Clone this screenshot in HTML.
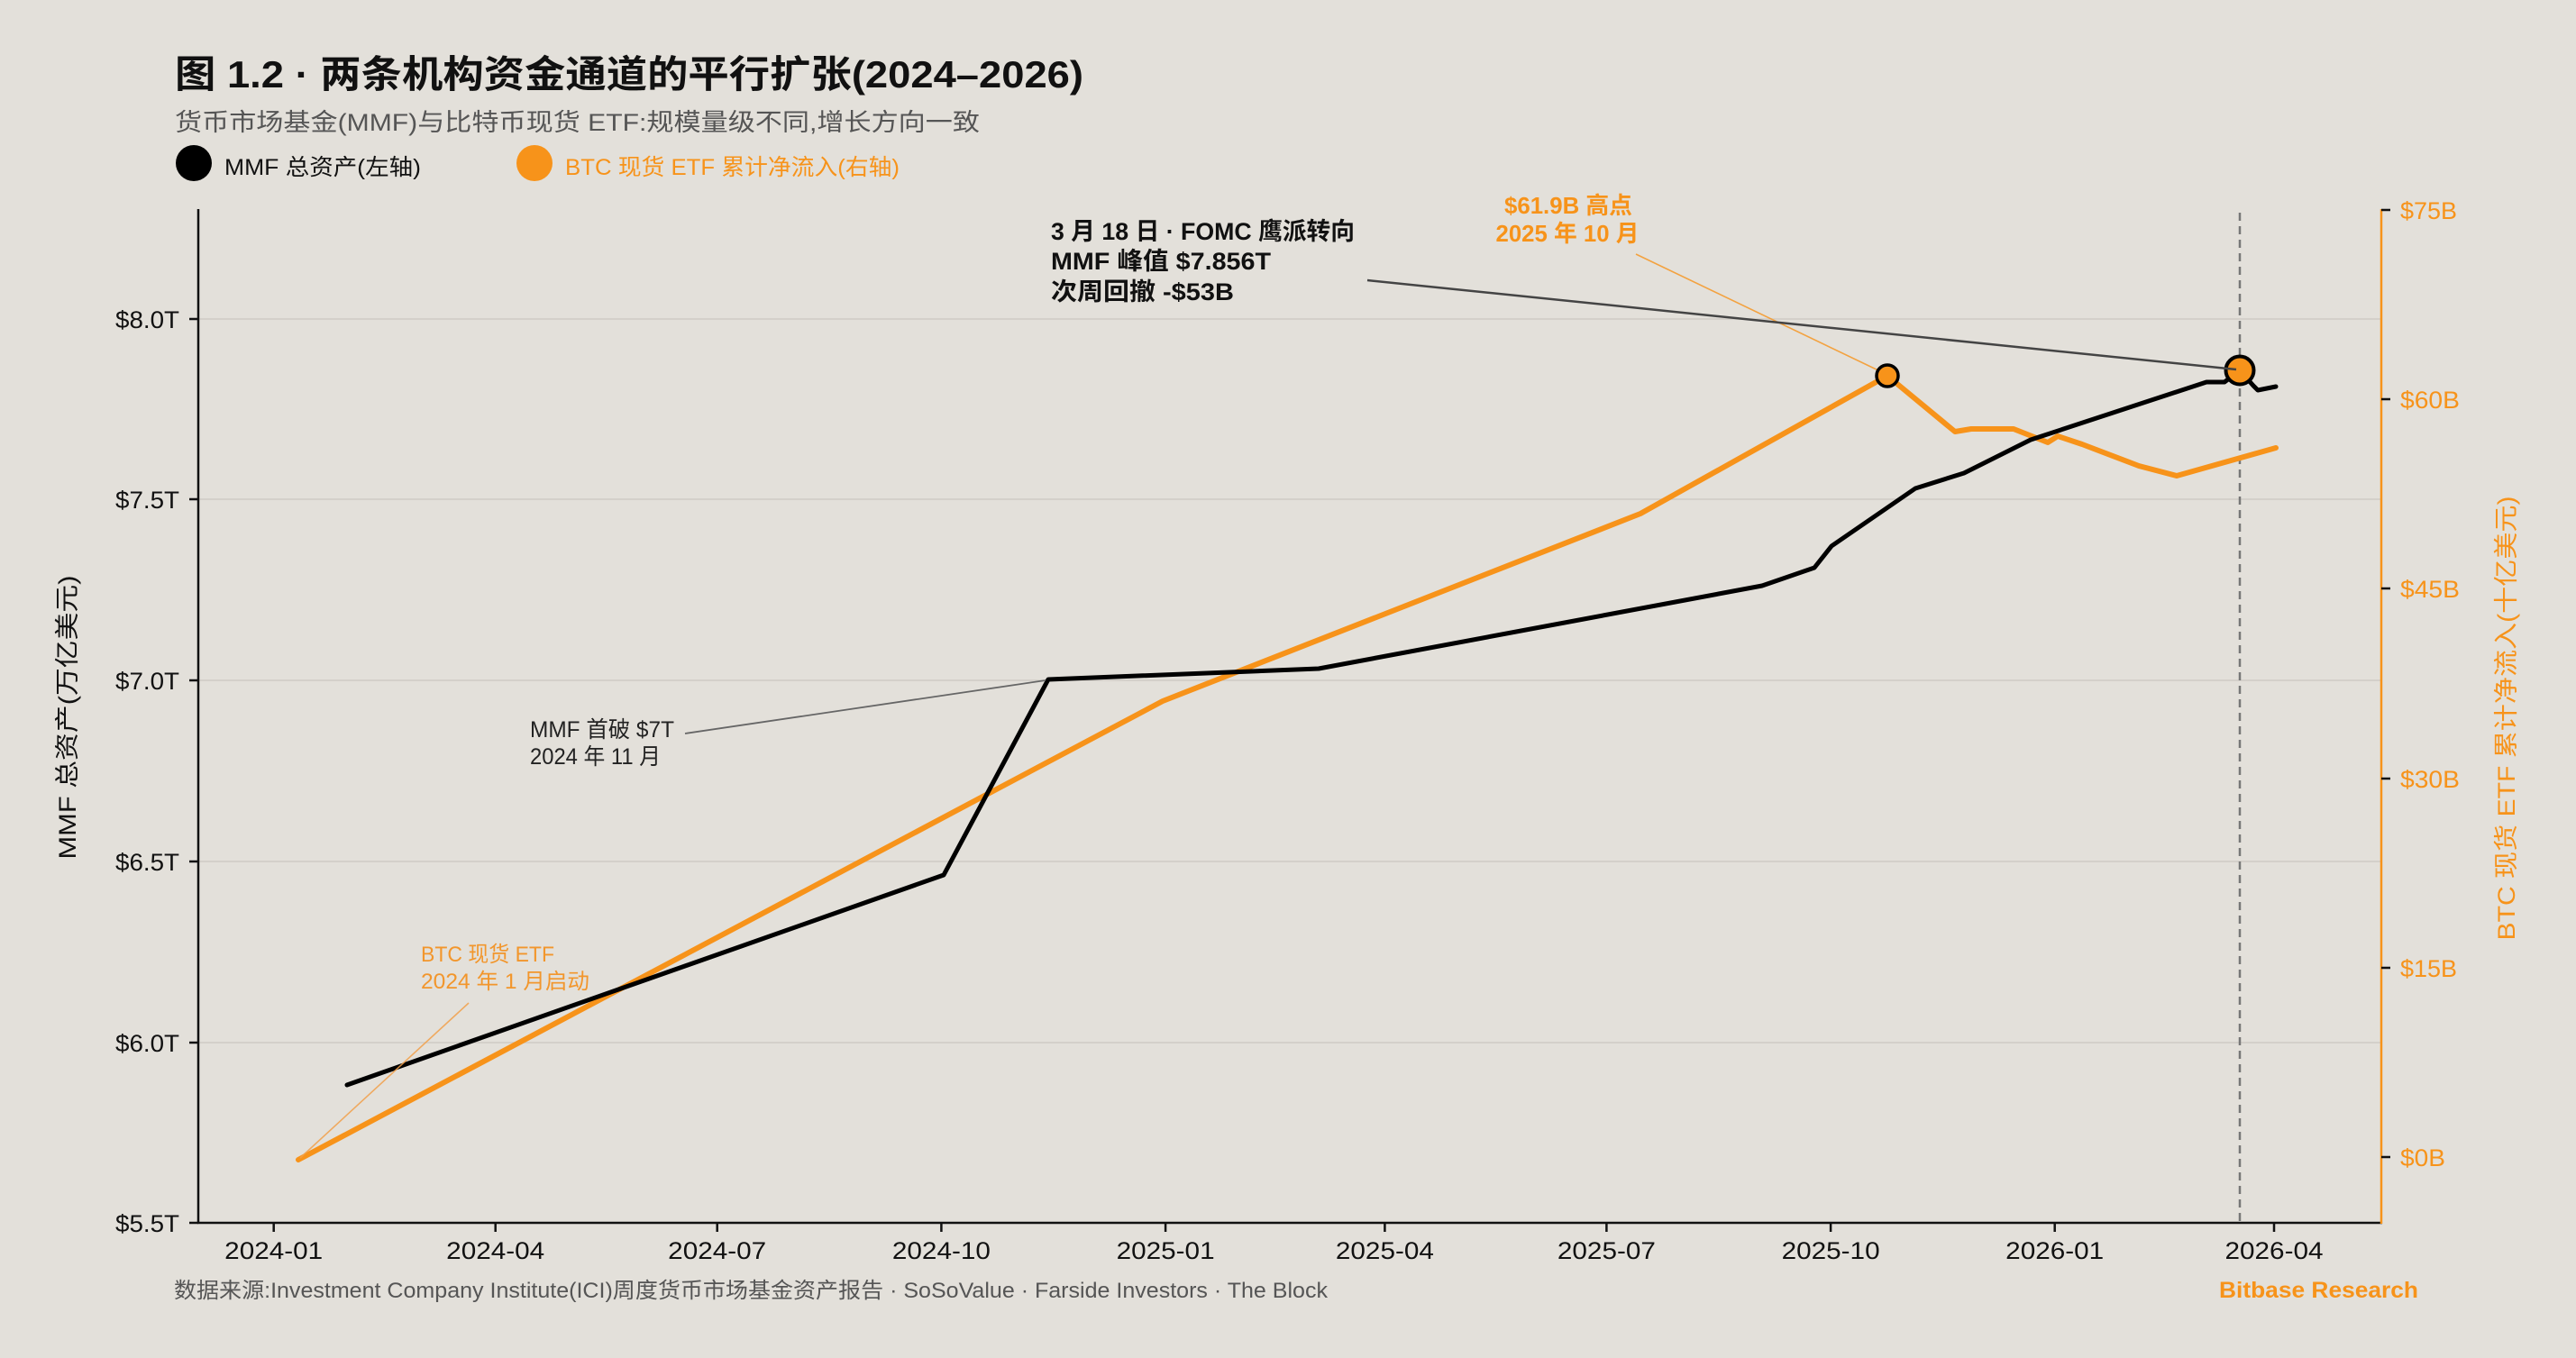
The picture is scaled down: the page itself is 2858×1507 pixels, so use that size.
<!DOCTYPE html>
<html>
<head>
<meta charset="utf-8">
<style>
html,body{margin:0;padding:0;background:#E3E0DA;}
svg{display:block;}
text{font-family:"Liberation Sans","Noto Sans CJK SC",sans-serif;}
</style>
</head>
<body>
<svg width="2858" height="1507" viewBox="0 0 2858 1507" xmlns="http://www.w3.org/2000/svg">
<rect x="0" y="0" width="2858" height="1507" fill="#E3E0DA"/>

<!-- Title -->
<text x="194" y="97" font-size="42" font-weight="bold" fill="#111" textLength="1008" lengthAdjust="spacingAndGlyphs">图 1.2 · 两条机构资金通道的平行扩张(2024–2026)</text>
<text x="194" y="145" font-size="27" fill="#555" textLength="893" lengthAdjust="spacingAndGlyphs">货币市场基金(MMF)与比特币现货 ETF:规模量级不同,增长方向一致</text>

<!-- Legend -->
<circle cx="215" cy="181" r="20" fill="#000"/>
<text x="249" y="194" font-size="25" fill="#111" textLength="218" lengthAdjust="spacingAndGlyphs">MMF 总资产(左轴)</text>
<circle cx="593" cy="181" r="20" fill="#F7931A"/>
<text x="627" y="194" font-size="25" fill="#F7931A" textLength="371" lengthAdjust="spacingAndGlyphs">BTC 现货 ETF 累计净流入(右轴)</text>

<!-- Grid lines -->
<g stroke="#CFCBC5" stroke-width="1.6">
<line x1="220" y1="354" x2="2642" y2="354"/>
<line x1="220" y1="554" x2="2642" y2="554"/>
<line x1="220" y1="755" x2="2642" y2="755"/>
<line x1="220" y1="956" x2="2642" y2="956"/>
<line x1="220" y1="1157" x2="2642" y2="1157"/>
</g>

<!-- Dashed vertical line -->
<line x1="2485" y1="236" x2="2485" y2="1357" stroke="#777" stroke-width="2.5" stroke-dasharray="9,6"/>

<!-- Axes -->
<line x1="220" y1="232" x2="220" y2="1358" stroke="#111" stroke-width="2.5"/>
<line x1="219" y1="1357" x2="2643" y2="1357" stroke="#111" stroke-width="2.5"/>
<line x1="2642" y1="232" x2="2642" y2="1358" stroke="#F7931A" stroke-width="2.5"/>

<!-- Left ticks -->
<g stroke="#111" stroke-width="2.5">
<line x1="210" y1="354" x2="220" y2="354"/>
<line x1="210" y1="554" x2="220" y2="554"/>
<line x1="210" y1="755" x2="220" y2="755"/>
<line x1="210" y1="956" x2="220" y2="956"/>
<line x1="210" y1="1157" x2="220" y2="1157"/>
<line x1="210" y1="1357" x2="220" y2="1357"/>
</g>
<g font-size="27" fill="#111" text-anchor="end">
<text x="199" y="364" textLength="71" lengthAdjust="spacingAndGlyphs">$8.0T</text>
<text x="199" y="564" textLength="71" lengthAdjust="spacingAndGlyphs">$7.5T</text>
<text x="199" y="765" textLength="71" lengthAdjust="spacingAndGlyphs">$7.0T</text>
<text x="199" y="966" textLength="71" lengthAdjust="spacingAndGlyphs">$6.5T</text>
<text x="199" y="1167" textLength="71" lengthAdjust="spacingAndGlyphs">$6.0T</text>
<text x="199" y="1367" textLength="71" lengthAdjust="spacingAndGlyphs">$5.5T</text>
</g>

<!-- Right ticks -->
<g stroke="#111" stroke-width="2.5">
<line x1="2642" y1="233" x2="2652" y2="233"/>
<line x1="2642" y1="443" x2="2652" y2="443"/>
<line x1="2642" y1="653" x2="2652" y2="653"/>
<line x1="2642" y1="864" x2="2652" y2="864"/>
<line x1="2642" y1="1074" x2="2652" y2="1074"/>
<line x1="2642" y1="1284" x2="2652" y2="1284"/>
</g>
<g font-size="27" fill="#F7931A">
<text x="2663" y="243" textLength="63" lengthAdjust="spacingAndGlyphs">$75B</text>
<text x="2663" y="453" textLength="66" lengthAdjust="spacingAndGlyphs">$60B</text>
<text x="2663" y="663" textLength="66" lengthAdjust="spacingAndGlyphs">$45B</text>
<text x="2663" y="874" textLength="66" lengthAdjust="spacingAndGlyphs">$30B</text>
<text x="2663" y="1084" textLength="63" lengthAdjust="spacingAndGlyphs">$15B</text>
<text x="2663" y="1294" textLength="50" lengthAdjust="spacingAndGlyphs">$0B</text>
</g>

<!-- X ticks -->
<g stroke="#111" stroke-width="2.5">
<line x1="303.7" y1="1357" x2="303.7" y2="1367"/>
<line x1="549.7" y1="1357" x2="549.7" y2="1367"/>
<line x1="795.7" y1="1357" x2="795.7" y2="1367"/>
<line x1="1044.4" y1="1357" x2="1044.4" y2="1367"/>
<line x1="1293.1" y1="1357" x2="1293.1" y2="1367"/>
<line x1="1536.4" y1="1357" x2="1536.4" y2="1367"/>
<line x1="1782.4" y1="1357" x2="1782.4" y2="1367"/>
<line x1="2031.1" y1="1357" x2="2031.1" y2="1367"/>
<line x1="2279.7" y1="1357" x2="2279.7" y2="1367"/>
<line x1="2523" y1="1357" x2="2523" y2="1367"/>
</g>
<g font-size="27" fill="#111" text-anchor="middle">
<text x="303.7" y="1397" textLength="109" lengthAdjust="spacingAndGlyphs">2024-01</text>
<text x="549.7" y="1397" textLength="109" lengthAdjust="spacingAndGlyphs">2024-04</text>
<text x="795.7" y="1397" textLength="109" lengthAdjust="spacingAndGlyphs">2024-07</text>
<text x="1044.4" y="1397" textLength="109" lengthAdjust="spacingAndGlyphs">2024-10</text>
<text x="1293.1" y="1397" textLength="109" lengthAdjust="spacingAndGlyphs">2025-01</text>
<text x="1536.4" y="1397" textLength="109" lengthAdjust="spacingAndGlyphs">2025-04</text>
<text x="1782.4" y="1397" textLength="109" lengthAdjust="spacingAndGlyphs">2025-07</text>
<text x="2031.1" y="1397" textLength="109" lengthAdjust="spacingAndGlyphs">2025-10</text>
<text x="2279.7" y="1397" textLength="109" lengthAdjust="spacingAndGlyphs">2026-01</text>
<text x="2523" y="1397" textLength="109" lengthAdjust="spacingAndGlyphs">2026-04</text>
</g>

<!-- Axis labels -->
<text transform="translate(84,796) rotate(-90)" font-size="27" fill="#111" text-anchor="middle" textLength="315" lengthAdjust="spacingAndGlyphs">MMF 总资产(万亿美元)</text>
<text transform="translate(2790,797) rotate(-90)" font-size="27" fill="#F7931A" text-anchor="middle" textLength="493" lengthAdjust="spacingAndGlyphs">BTC 现货 ETF 累计净流入(十亿美元)</text>

<!-- BTC series -->
<polyline fill="none" stroke="#F7931A" stroke-width="6" stroke-linejoin="round" stroke-linecap="round"
 points="331,1287 1290,778 1820,570 2094,417 2169,479 2187,476 2234,476 2272,491 2283,484 2310,493 2373,517 2415,528 2525,497"/>

<!-- MMF series -->
<polyline fill="none" stroke="#000" stroke-width="5" stroke-linejoin="round" stroke-linecap="round"
 points="385,1204 1047,971 1163,754 1463,742 1955,650 2013,630 2032,606 2125,542 2179,525 2253,488 2448,424 2468,424 2485,411 2500,428 2505,433 2525,429"/>

<!-- Annotation leaders -->
<line x1="520" y1="1113" x2="333" y2="1285" stroke="#F2A04A" stroke-width="1.6" opacity="0.85"/>
<line x1="760" y1="814" x2="1160" y2="755" stroke="#666" stroke-width="1.8"/>
<line x1="1815" y1="282" x2="2086" y2="412" stroke="#F7931A" stroke-width="1.6" opacity="0.8"/>

<!-- Peak markers -->
<circle cx="2094" cy="417" r="12" fill="#F7931A" stroke="#000" stroke-width="3.5"/>
<circle cx="2485" cy="411" r="15.5" fill="#F7931A" stroke="#000" stroke-width="4"/>

<line x1="1517" y1="311" x2="2481" y2="410" stroke="#444" stroke-width="2.5"/>

<!-- Annotations -->
<g font-size="27" font-weight="bold" fill="#111">
<text x="1166" y="266" textLength="337" lengthAdjust="spacingAndGlyphs">3 月 18 日 · FOMC 鹰派转向</text>
<text x="1166" y="299" textLength="244" lengthAdjust="spacingAndGlyphs">MMF 峰值 $7.856T</text>
<text x="1166" y="333" textLength="203" lengthAdjust="spacingAndGlyphs">次周回撤 -$53B</text>
</g>
<g font-size="26" font-weight="bold" fill="#F7931A" text-anchor="middle">
<text x="1740" y="237" textLength="142" lengthAdjust="spacingAndGlyphs">$61.9B 高点</text>
<text x="1739" y="268" textLength="159" lengthAdjust="spacingAndGlyphs">2025 年 10 月</text>
</g>
<g font-size="25" fill="#222">
<text x="588" y="818" textLength="160" lengthAdjust="spacingAndGlyphs">MMF 首破 $7T</text>
<text x="588" y="848" textLength="145" lengthAdjust="spacingAndGlyphs">2024 年 11 月</text>
</g>
<g font-size="24" fill="#F2962C">
<text x="467" y="1067" textLength="148" lengthAdjust="spacingAndGlyphs">BTC 现货 ETF</text>
<text x="467" y="1097" textLength="187" lengthAdjust="spacingAndGlyphs">2024 年 1 月启动</text>
</g>

<!-- Footer -->
<text x="193" y="1440" font-size="24" fill="#555" textLength="1280" lengthAdjust="spacingAndGlyphs">数据来源:Investment Company Institute(ICI)周度货币市场基金资产报告 · SoSoValue · Farside Investors · The Block</text>
<text x="2462" y="1440" font-size="25" font-weight="bold" fill="#F7931A" textLength="221" lengthAdjust="spacingAndGlyphs">Bitbase Research</text>
</svg>
</body>
</html>
